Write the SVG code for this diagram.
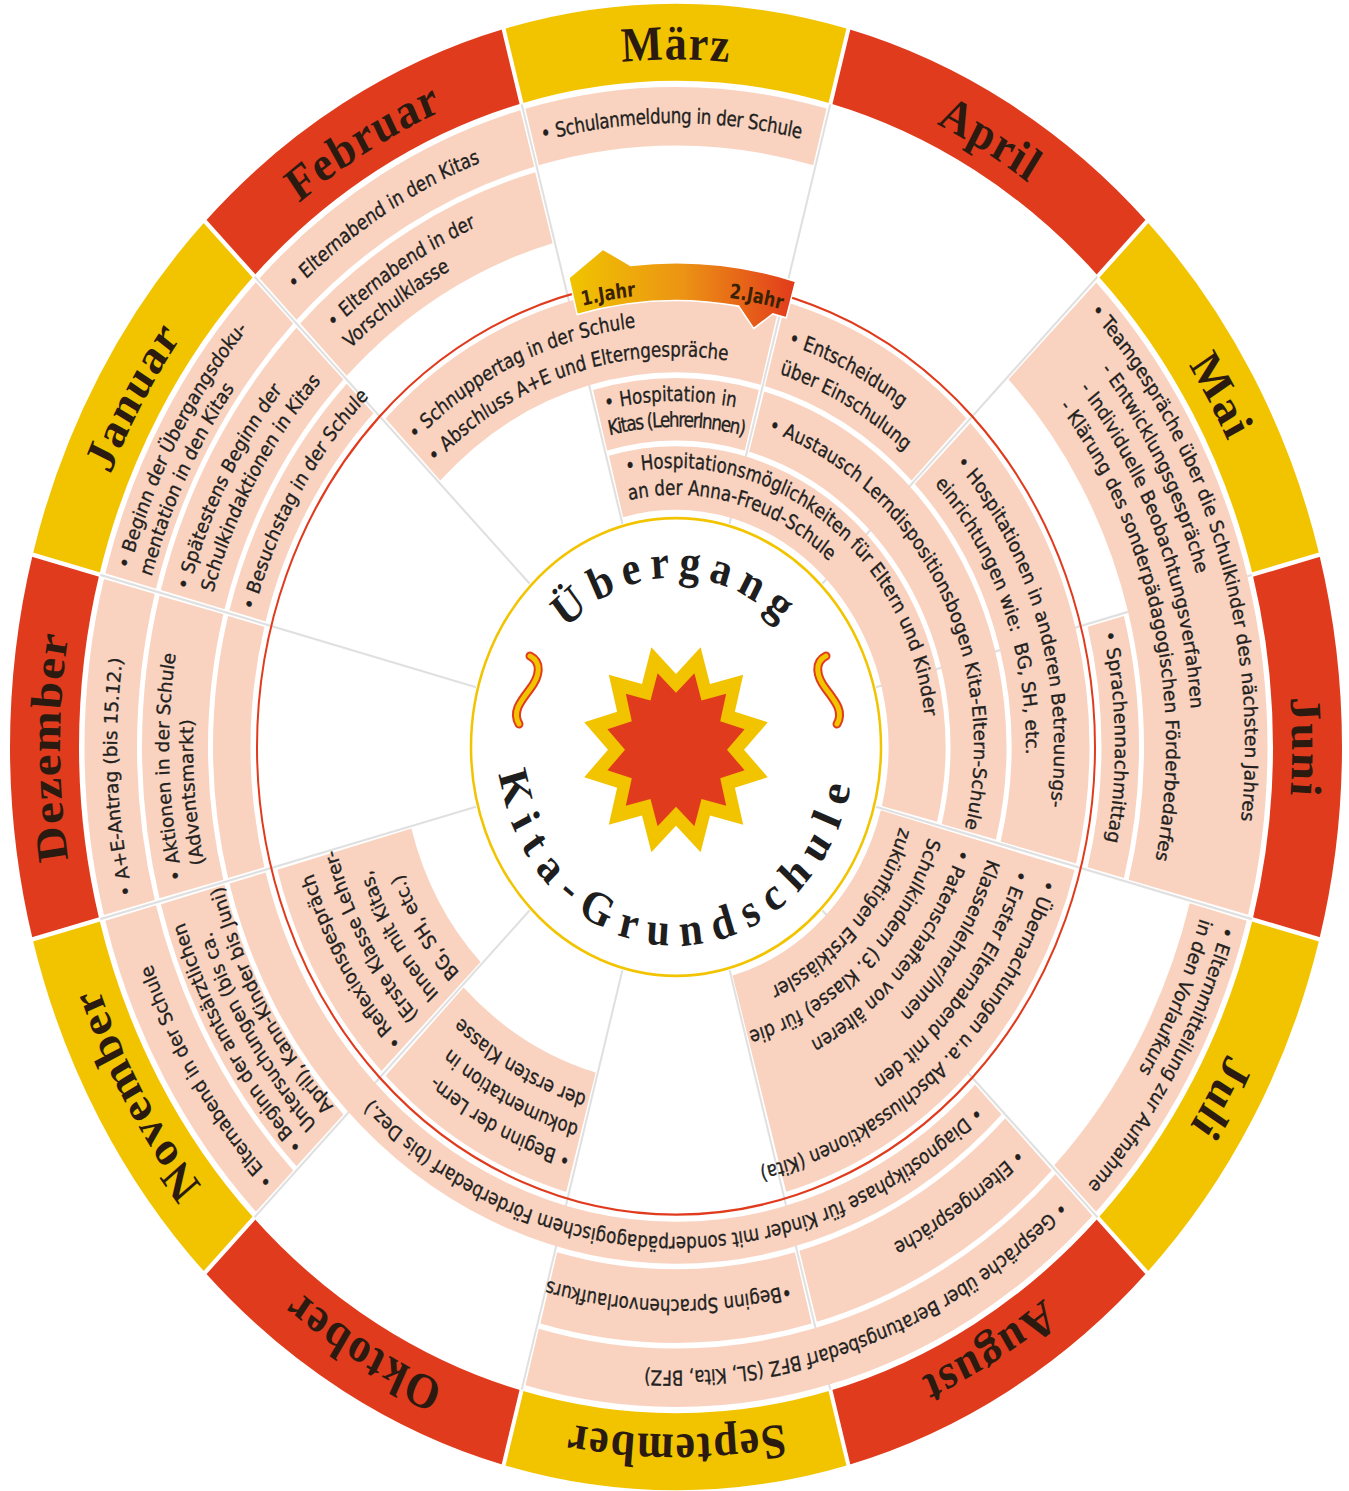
<svg xmlns="http://www.w3.org/2000/svg" width="1349" height="1491" viewBox="0 0 1349 1491">
<style>
.bx{fill:none;stroke:#F9D3C0}
.mb{fill:none;stroke-width:69}
.t{font-family:'DejaVu Sans Condensed','DejaVu Sans',sans-serif;font-stretch:condensed;font-size:18.5px;fill:#231f1e;stroke:#231f1e;stroke-width:0.3px}
.m{font-family:'Liberation Serif','Times New Roman',serif;font-weight:bold;font-size:44px;fill:#2b1a10;letter-spacing:1.5px}
.c{font-family:'Liberation Serif','Times New Roman',serif;font-weight:bold;font-size:42px;fill:#1e1e1e}
.j{font-family:'DejaVu Sans Condensed','DejaVu Sans',sans-serif;font-stretch:condensed;font-weight:bold;font-size:18px;fill:#3a2200}
.sep{stroke:#fff;stroke-width:4}
.sp{stroke:#e0e0e0;stroke-width:2}
</style>
<defs>
<linearGradient id="gBan" gradientUnits="userSpaceOnUse" x1="-107" y1="0" x2="120" y2="0">
<stop offset="0" stop-color="#F0C400"/><stop offset="0.5" stop-color="#EC9414"/><stop offset="1" stop-color="#E23A1C"/>
</linearGradient>
<path id="r616" d="M616 0A616 616 0 1 1-616 0A616 616 0 1 1 616 0"/>
<path id="r569" d="M569 0A569 569 0 1 1-569 0A569 569 0 1 1 569 0"/>
<path id="r559" d="M559 0A559 559 0 1 1-559 0A559 559 0 1 1 559 0"/>
<path id="r546" d="M546 0A546 546 0 1 1-546 0A546 546 0 1 1 546 0"/>
<path id="r543" d="M543 0A543 543 0 1 1-543 0A543 543 0 1 1 543 0"/>
<path id="r516" d="M516 0A516 516 0 1 1-516 0A516 516 0 1 1 516 0"/>
<path id="r507" d="M507 0A507 507 0 1 1-507 0A507 507 0 1 1 507 0"/>
<path id="r495" d="M495 0A495 495 0 1 1-495 0A495 495 0 1 1 495 0"/>
<path id="r493" d="M493 0A493 493 0 1 1-493 0A493 493 0 1 1 493 0"/>
<path id="r490" d="M490 0A490 490 0 1 1-490 0A490 490 0 1 1 490 0"/>
<path id="r483" d="M483 0A483 483 0 1 1-483 0A483 483 0 1 1 483 0"/>
<path id="r470" d="M470 0A470 470 0 1 1-470 0A470 470 0 1 1 470 0"/>
<path id="r439" d="M439 0A439 439 0 1 1-439 0A439 439 0 1 1 439 0"/>
<path id="r406" d="M406 0A406 406 0 1 1-406 0A406 406 0 1 1 406 0"/>
<path id="r386" d="M386 0A386 386 0 1 1-386 0A386 386 0 1 1 386 0"/>
<path id="r380" d="M380 0A380 380 0 1 1-380 0A380 380 0 1 1 380 0"/>
<path id="r378" d="M378 0A378 378 0 1 1-378 0A378 378 0 1 1 378 0"/>
<path id="r357" d="M357 0A357 357 0 1 1-357 0A357 357 0 1 1 357 0"/>
<path id="r352" d="M352 0A352 352 0 1 1-352 0A352 352 0 1 1 352 0"/>
<path id="r350" d="M350 0A350 350 0 1 1-350 0A350 350 0 1 1 350 0"/>
<path id="r327" d="M327 0A327 327 0 1 1-327 0A327 327 0 1 1 327 0"/>
<path id="r324" d="M324 0A324 324 0 1 1-324 0A324 324 0 1 1 324 0"/>
<path id="r310" d="M310 0A310 310 0 1 1-310 0A310 310 0 1 1 310 0"/>
<path id="r298" d="M298 0A298 298 0 1 1-298 0A298 298 0 1 1 298 0"/>
<path id="r296" d="M296 0A296 296 0 1 1-296 0A296 296 0 1 1 296 0"/>
<path id="r287" d="M287 0A287 287 0 1 1-287 0A287 287 0 1 1 287 0"/>
<path id="r265" d="M265 0A265 265 0 1 1-265 0A265 265 0 1 1 265 0"/>
<path id="r250" d="M250 0A250 250 0 1 1-250 0A250 250 0 1 1 250 0"/>
<path id="r235" d="M235 0A235 235 0 1 1-235 0A235 235 0 1 1 235 0"/>
<path id="r226" d="M226 0A226 226 0 1 1-226 0A226 226 0 1 1 226 0"/>
<path id="r152" d="M152 0A152 152 0 1 1-152 0A152 152 0 1 1 152 0"/>
<path id="k178" d="M-178 0A178 178 0 0 0 178 0"/>
</defs>
<rect width="1349" height="1491" fill="#fff"/>
<g transform="translate(676 747) scale(1 1.116)">
<g id="months">
<g id="m-maerz"><circle class="mb" r="631.5" stroke="#F2C400" stroke-dasharray="30 400" pathLength="360" transform="rotate(-105)"/><text class="m" transform="rotate(-180)" text-anchor="middle"><textPath href="#r616" startOffset="25%">März</textPath></text></g>
<g id="m-april"><circle class="mb" r="631.5" stroke="#E13B1E" stroke-dasharray="30 400" pathLength="360" transform="rotate(-75)"/><text class="m" transform="rotate(-150)" text-anchor="middle"><textPath href="#r616" startOffset="25%">April</textPath></text></g>
<g id="m-mai"><circle class="mb" r="631.5" stroke="#F2C400" stroke-dasharray="30 400" pathLength="360" transform="rotate(-45)"/><text class="m" transform="rotate(-120)" text-anchor="middle"><textPath href="#r616" startOffset="25%">Mai</textPath></text></g>
<g id="m-juni"><circle class="mb" r="631.5" stroke="#E13B1E" stroke-dasharray="30 400" pathLength="360" transform="rotate(-15)"/><text class="m" transform="rotate(-90)" text-anchor="middle"><textPath href="#r616" startOffset="25%">Juni</textPath></text></g>
<g id="m-juli"><circle class="mb" r="631.5" stroke="#F2C400" stroke-dasharray="30 400" pathLength="360" transform="rotate(15)"/><text class="m" transform="rotate(-60)" text-anchor="middle"><textPath href="#r616" startOffset="25%">Juli</textPath></text></g>
<g id="m-august"><circle class="mb" r="631.5" stroke="#E13B1E" stroke-dasharray="30 400" pathLength="360" transform="rotate(45)"/><text class="m" transform="rotate(-30)" text-anchor="middle"><textPath href="#r616" startOffset="25%">August</textPath></text></g>
<g id="m-september"><circle class="mb" r="631.5" stroke="#F2C400" stroke-dasharray="30 400" pathLength="360" transform="rotate(75)"/><text class="m" transform="rotate(0)" text-anchor="middle"><textPath href="#r616" startOffset="25%">September</textPath></text></g>
<g id="m-oktober"><circle class="mb" r="631.5" stroke="#E13B1E" stroke-dasharray="30 400" pathLength="360" transform="rotate(105)"/><text class="m" transform="rotate(30)" text-anchor="middle"><textPath href="#r616" startOffset="25%">Oktober</textPath></text></g>
<g id="m-november"><circle class="mb" r="631.5" stroke="#F2C400" stroke-dasharray="30 400" pathLength="360" transform="rotate(135)"/><text class="m" transform="rotate(60)" text-anchor="middle"><textPath href="#r616" startOffset="25%">November</textPath></text></g>
<g id="m-dezember"><circle class="mb" r="631.5" stroke="#E13B1E" stroke-dasharray="30 400" pathLength="360" transform="rotate(165)"/><text class="m" transform="rotate(90)" text-anchor="middle"><textPath href="#r616" startOffset="25%">Dezember</textPath></text></g>
<g id="m-januar"><circle class="mb" r="631.5" stroke="#F2C400" stroke-dasharray="30 400" pathLength="360" transform="rotate(195)"/><text class="m" transform="rotate(120)" text-anchor="middle"><textPath href="#r616" startOffset="25%">Januar</textPath></text></g>
<g id="m-februar"><circle class="mb" r="631.5" stroke="#E13B1E" stroke-dasharray="30 400" pathLength="360" transform="rotate(225)"/><text class="m" transform="rotate(150)" text-anchor="middle"><textPath href="#r616" startOffset="25%">Februar</textPath></text></g>
<g id="month-separators">
<line class="sep" x1="594" x2="668" transform="rotate(-105)"/><line class="sep" x1="594" x2="668" transform="rotate(-75)"/><line class="sep" x1="594" x2="668" transform="rotate(-45)"/><line class="sep" x1="594" x2="668" transform="rotate(-15)"/><line class="sep" x1="594" x2="668" transform="rotate(15)"/><line class="sep" x1="594" x2="668" transform="rotate(45)"/><line class="sep" x1="594" x2="668" transform="rotate(75)"/><line class="sep" x1="594" x2="668" transform="rotate(105)"/><line class="sep" x1="594" x2="668" transform="rotate(135)"/><line class="sep" x1="594" x2="668" transform="rotate(165)"/><line class="sep" x1="594" x2="668" transform="rotate(195)"/><line class="sep" x1="594" x2="668" transform="rotate(225)"/>
</g>
</g>
<g id="connectors">
<line class="sp" x1="207" x2="596" transform="rotate(-105)"/><line class="sp" x1="207" x2="596" transform="rotate(-75)"/><line class="sp" x1="207" x2="596" transform="rotate(-45)"/><line class="sp" x1="207" x2="596" transform="rotate(-15)"/><line class="sp" x1="207" x2="596" transform="rotate(15)"/><line class="sp" x1="207" x2="596" transform="rotate(45)"/><line class="sp" x1="207" x2="596" transform="rotate(75)"/><line class="sp" x1="207" x2="596" transform="rotate(105)"/><line class="sp" x1="207" x2="596" transform="rotate(135)"/><line class="sp" x1="207" x2="596" transform="rotate(165)"/><line class="sp" x1="207" x2="596" transform="rotate(195)"/><line class="sp" x1="207" x2="596" transform="rotate(225)"/>
</g>
<g id="red-ring"><circle r="419" fill="none" stroke="#E13B1E" stroke-width="2"/></g>

<g id="schulanmeldung"><circle class="bx" r="565.25" stroke-width="52.5" stroke-dasharray="29.494 400" pathLength="360" transform="rotate(-104.747)"/>
<text class="t" transform="rotate(-103.8)" style="letter-spacing:-0.3px"><textPath href="#r559">• Schulanmeldung in der Schule</textPath></text></g>
<g id="elternabend-kitas"><circle class="bx" r="565.25" stroke-width="52.5" stroke-dasharray="29.494 400" pathLength="360" transform="rotate(-134.747)"/>
<text class="t" transform="rotate(-133)"><textPath href="#r559">• Elternabend in den Kitas</textPath></text></g>
<g id="uebergangsdoku"><circle class="bx" r="565.25" stroke-width="52.5" stroke-dasharray="29.494 400" pathLength="360" transform="rotate(-164.747)"/>
<text class="t" transform="rotate(-163.8)"><textPath href="#r569">• Beginn der Übergangsdoku-</textPath></text>
<text class="t" transform="rotate(-163.8)"><textPath href="#r546">mentation in den Kitas</textPath></text></g>
<g id="ae-antrag"><circle class="bx" r="565.25" stroke-width="52.5" stroke-dasharray="29.494 400" pathLength="360" transform="rotate(165.253)"/>
<text class="t" transform="rotate(166.3)"><textPath href="#r559">• A+E-Antrag (bis 15.12.)</textPath></text></g>
<g id="elternabend-schule"><circle class="bx" r="565.25" stroke-width="52.5" stroke-dasharray="29.494 400" pathLength="360" transform="rotate(135.253)"/>
<text class="t" transform="rotate(136)"><textPath href="#r559">• Elternabend in der Schule</textPath></text></g>
<g id="beratungsbedarf"><circle class="bx" r="565.25" stroke-width="52.5" stroke-dasharray="59.494 400" pathLength="360" transform="rotate(45.253)"/>
<text class="t" transform="rotate(46.6)"><textPath href="#r559">• Gespräche über Beratungsbedarf BFZ (SL, Kita, BFZ)</textPath></text></g>
<g id="elternmitteilung"><circle class="bx" r="562" stroke-width="59" stroke-dasharray="29.49 400" pathLength="360" transform="rotate(15.255)"/>
<text class="t" transform="rotate(16.3)"><textPath href="#r569">• Elternmitteilung zur Aufnahme</textPath></text>
<text class="t" transform="rotate(16.3)"><textPath href="#r546">in den Vorlaufkurs</textPath></text></g>
<g id="teamgespraeche"><circle class="bx" r="529.75" stroke-width="123.5" stroke-dasharray="59.46 400" pathLength="360" transform="rotate(-44.73)"/>
<text class="t" transform="rotate(-43.3)"><textPath href="#r569">• Teamgespräche über die Schulkinder des nächsten Jahres</textPath></text>
<text class="t" transform="rotate(-38.5)"><textPath href="#r543">- Entwicklungsgespräche</textPath></text>
<text class="t" transform="rotate(-38.5)"><textPath href="#r516">- Individuelle Beobachtungsverfahren</textPath></text>
<text class="t" transform="rotate(-38.5)"><textPath href="#r490">- Klärung des sonderpädagogischen Förderbedarfes</textPath></text></g>

<g id="vorschulklasse"><circle class="bx" r="501" stroke-width="66" stroke-dasharray="29.428 400" pathLength="360" transform="rotate(-134.714)"/>
<text class="t" transform="rotate(-132.4)"><textPath href="#r507">• Elternabend in der</textPath></text>
<text class="t" transform="rotate(-132.4)"><textPath href="#r483">Vorschulklasse</textPath></text></g>
<g id="schulkindaktionen"><circle class="bx" r="501" stroke-width="66" stroke-dasharray="29.428 400" pathLength="360" transform="rotate(-164.714)"/>
<text class="t" transform="rotate(-164)"><textPath href="#r507">• Spätestens Beginn der</textPath></text>
<text class="t" transform="rotate(-163.4)"><textPath href="#r483">Schulkindaktionen in Kitas</textPath></text></g>
<g id="aktionen"><circle class="bx" r="501" stroke-width="66" stroke-dasharray="29.428 400" pathLength="360" transform="rotate(165.286)"/>
<text class="t" transform="rotate(166.5)"><textPath href="#r507">• Aktionen in der Schule</textPath></text>
<text class="t" transform="rotate(167.5)"><textPath href="#r483">(Adventsmarkt)</textPath></text></g>
<g id="amtsaerztlich"><circle class="bx" r="501" stroke-width="66" stroke-dasharray="29.428 400" pathLength="360" transform="rotate(135.286)"/>
<text class="t" transform="rotate(136.2)"><textPath href="#r516">• Beginn der amtsärztlichen</textPath></text>
<text class="t" transform="rotate(136.8)"><textPath href="#r493">Untersuchungen (bis ca.</textPath></text>
<text class="t" transform="rotate(136.8)"><textPath href="#r470">April), Kann-Kinder bis Juni)</textPath></text></g>
<g id="sprachenvorlaufkurs"><circle class="bx" r="501" stroke-width="66" stroke-dasharray="29.428 400" pathLength="360" transform="rotate(75.286)"/>
<text class="t" transform="rotate(76.7)"><textPath href="#r495">•Beginn Sprachenvorlaufkurs</textPath></text></g>
<g id="elterngespraeche"><circle class="bx" r="501" stroke-width="66" stroke-dasharray="29.428 400" pathLength="360" transform="rotate(45.286)"/>
<text class="t" transform="rotate(46.5)"><textPath href="#r495">• Elterngespräche</textPath></text></g>

<g id="besuchstag"><circle class="bx" r="444.25" stroke-width="37.5" stroke-dasharray="29.356 400" pathLength="360" transform="rotate(-164.678)"/>
<text class="t" transform="rotate(-163.9)"><textPath href="#r439">• Besuchstag in der Schule</textPath></text></g>
<g id="dezember-leer"><circle class="bx" r="444.25" stroke-width="37.5" stroke-dasharray="29.356 400" pathLength="360" transform="rotate(165.322)"/></g>
<g id="diagnostikphase"><circle class="bx" r="444.25" stroke-width="37.5" stroke-dasharray="119.356 400" pathLength="360" transform="rotate(45.322)"/>
<text class="t" transform="rotate(47)"><textPath href="#r439">• Diagnostikphase für Kinder mit sonderpädagogischem Förderbedarf (bis Dez.)</textPath></text></g>
<g id="sprachennachmittag"><circle class="bx" r="444.25" stroke-width="37.5" stroke-dasharray="29.356 400" pathLength="360" transform="rotate(-14.678)"/>
<text class="t" transform="rotate(-13.5)"><textPath href="#r439">• Sprachennachmittag</textPath></text></g>

<g id="schnuppertag"><circle class="bx" r="374.5" stroke-width="78" stroke-dasharray="59.236 400" pathLength="360" transform="rotate(-134.618)"/>
<text class="t" transform="rotate(-133.5)"><textPath href="#r378">• Schnuppertag in der Schule</textPath></text>
<text class="t" transform="rotate(-133.5)"><textPath href="#r350">• Abschluss A+E und Elterngespräche</textPath></text></g>
<g id="entscheidung"><circle class="bx" r="374.5" stroke-width="78" stroke-dasharray="29.236 400" pathLength="360" transform="rotate(-74.618)"/>
<text class="t" transform="rotate(-72.8)"><textPath href="#r378">• Entscheidung</textPath></text>
<text class="t" transform="rotate(-72.8)"><textPath href="#r350">über Einschulung</textPath></text></g>
<g id="hospitationen-andere"><circle class="bx" r="374.5" stroke-width="78" stroke-dasharray="59.236 400" pathLength="360" transform="rotate(-44.618)"/>
<text class="t" transform="rotate(-42.3)"><textPath href="#r378">• Hospitationen in anderen Betreuungs-</textPath></text>
<text class="t" transform="rotate(-42.3)"><textPath href="#r350">einrichtungen wie:&#160; BG, SH, etc.</textPath></text></g>
<g id="hospitation-kitas"><circle class="bx" r="302.5" stroke-width="56" stroke-dasharray="29.054 400" pathLength="360" transform="rotate(-104.527)"/>
<text class="t" transform="rotate(-103.1)"><textPath href="#r310">• Hospitation in</textPath></text>
<text class="t" transform="rotate(-103.4)" style="letter-spacing:-1.3px"><textPath href="#r287">Kitas (LehrerInnen)</textPath></text></g>
<g id="austausch"><circle class="bx" r="302.5" stroke-width="56" stroke-dasharray="89.054 400" pathLength="360" transform="rotate(-74.527)"/>
<text class="t" transform="rotate(-72)"><textPath href="#r298">• Austausch Lerndispositionsbogen Kita-Eltern-Schule</textPath></text></g>
<g id="hospitationsmoeglichkeiten"><circle class="bx" r="241" stroke-width="57" stroke-dasharray="118.812 400" pathLength="360" transform="rotate(-104.406)"/>
<text class="t" transform="rotate(-101.4)"><textPath href="#r250">• Hospitationsmöglichkeiten für Eltern und Kinder</textPath></text>
<text class="t" transform="rotate(-102)"><textPath href="#r226">an der Anna-Freud-Schule</textPath></text></g>
<g id="abschlussaktionen"><circle class="bx" r="313" stroke-width="201" stroke-dasharray="59.084 400" pathLength="360" transform="rotate(15.458)"/>
<text class="t" transform="rotate(17.8)"><textPath href="#r386">• Übernachtungen u.a. Abschlussaktionen (Kita)</textPath></text>
<text class="t" transform="rotate(17.8)"><textPath href="#r357">• Erster Elternabend mit den</textPath></text>
<text class="t" transform="rotate(17.8)"><textPath href="#r327">Klassenlehrer/Innen</textPath></text>
<text class="t" transform="rotate(17.8)"><textPath href="#r296">• Patenschaften von älteren</textPath></text>
<text class="t" transform="rotate(17.8)"><textPath href="#r265">Schulkindern (3. Klasse) für die</textPath></text>
<text class="t" transform="rotate(17.8)"><textPath href="#r235">zukünftigen Erstklässler</textPath></text></g>
<g id="lerndokumentation"><circle class="bx" r="358" stroke-width="111" stroke-dasharray="29.2 400" pathLength="360" transform="rotate(105.4)"/>
<text class="t" transform="rotate(106)"><textPath href="#r380">• Beginn der Lern-</textPath></text>
<text class="t" transform="rotate(106)"><textPath href="#r352">dokumentation in</textPath></text>
<text class="t" transform="rotate(106)"><textPath href="#r324">der ersten Klasse</textPath></text></g>
<g id="reflexionsgespraech"><circle class="bx" r="344" stroke-width="139" stroke-dasharray="29.168 400" pathLength="360" transform="rotate(135.416)"/>
<text class="t" transform="rotate(136)"><textPath href="#r380">• Reflexionsgespräch</textPath></text>
<text class="t" transform="rotate(137)"><textPath href="#r352">(Erste Klasse Lehrer-</textPath></text>
<text class="t" transform="rotate(137)"><textPath href="#r324">Innen mit Kitas,</textPath></text>
<text class="t" transform="rotate(137)"><textPath href="#r296">BG, SH, etc.)</textPath></text></g>

<g id="jahr-banner">
<path d="M-107.2 -420.5L-73 -446.1L-45.4 -431.6A434 434 0 0 1 119.6 -417.2L110.2 -384.5L96.8 -388.1L77.7 -375L62.6 -395.1A400 400 0 0 0 -98.8 -387.6Z" fill="url(#gBan)" stroke="#fff" stroke-width="1.5"/>
<text class="j" transform="rotate(-103.3)"><textPath href="#r406">1.Jahr</textPath></text>
<text class="j" transform="rotate(-82.5)"><textPath href="#r406">2.Jahr</textPath></text>
</g>

<g id="center">
<circle r="205" fill="#fff" stroke="#F2C400" stroke-width="2.5"/>
<g transform="translate(0 2.5)">
<polygon fill="#F2C400" points="68,0 91.8,24.6 58.9,34 67.2,67.2 34,58.9 24.6,91.8 0,68 -24.6,91.8 -34,58.9 -67.2,67.2 -58.9,34 -91.8,24.6 -68,0 -91.8,-24.6 -58.9,-34 -67.2,-67.2 -34,-58.9 -24.6,-91.8 0,-68 24.6,-91.8 34,-58.9 67.2,-67.2 58.9,-34 91.8,-24.6"/>
<polygon fill="#E13B1E" points="51,0 68.6,18.4 44.2,25.5 50.2,50.2 25.5,44.2 18.4,68.6 0,51 -18.4,68.6 -25.5,44.2 -50.2,50.2 -44.2,25.5 -68.6,18.4 -51,0 -68.6,-18.4 -44.2,-25.5 -50.2,-50.2 -25.5,-44.2 -18.4,-68.6 0,-51 18.4,-68.6 25.5,-44.2 50.2,-50.2 44.2,-25.5 68.6,-18.4"/>
</g>
<text class="c" transform="rotate(-180)" text-anchor="middle" style="letter-spacing:8.5px"><textPath href="#r152" startOffset="25%">Übergang</textPath></text>
<text class="c" text-anchor="middle" style="letter-spacing:11.5px"><textPath href="#k178" startOffset="50%">Kita-Grundschule</textPath></text>
</g>
</g>
<g id="squiggles" fill="none" stroke-linecap="round">
<path d="M530,656C542,662 540,676 530,689C520,702 512,712 519,724" stroke="#E13B1E" stroke-width="9"/>
<path d="M530,656C542,662 540,676 530,689C520,702 512,712 519,724" stroke="#F2C400" stroke-width="5"/>
<path d="M826,656C814,662 816,676 826,689C836,702 844,712 837,724" stroke="#E13B1E" stroke-width="9"/>
<path d="M826,656C814,662 816,676 826,689C836,702 844,712 837,724" stroke="#F2C400" stroke-width="5"/>
</g>
</svg>
